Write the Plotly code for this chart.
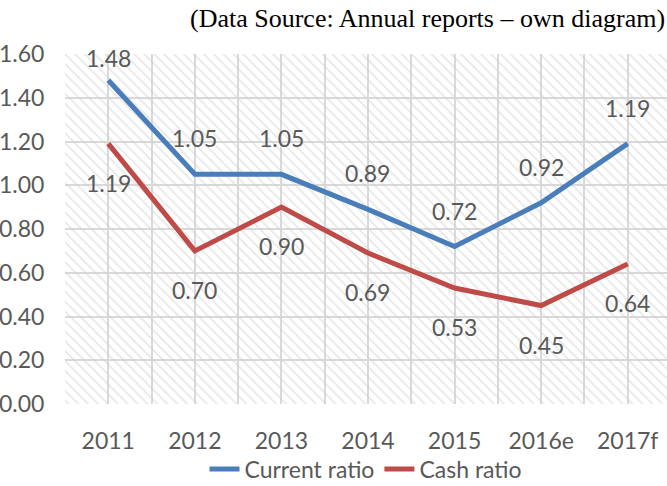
import plotly.graph_objects as go

# ---- data ----
years = ["2011", "2012", "2013", "2014", "2015", "2016e", "2017f"]
current_ratio = [1.48, 1.05, 1.05, 0.89, 0.72, 0.92, 1.19]
cash_ratio = [1.19, 0.70, 0.90, 0.69, 0.53, 0.45, 0.64]
y_ticks = [0.0, 0.2, 0.4, 0.6, 0.8, 1.0, 1.2, 1.4, 1.6]
title_text = "(Data Source: Annual reports \u2013 own diagram)"

# ---- style ----
W, H = 667, 486
M_L, M_R, M_T, M_B = 65, 0, 54, 82
Y_MIN, Y_MAX = 0.0, 1.6
X_RANGE = [-0.5, len(years) - 0.5 - 0.046]
BLUE = "#4A7EBB"
RED = "#BE4B48"
TXT = "#595959"
GRID = "#d9d9d9"
FONT = "Lato"
FS = 23

fig = go.Figure()

# patterned plot-area background (one full-height bar per category)
fig.add_trace(go.Bar(
    x=years, y=[Y_MAX] * len(years), width=1,
    marker=dict(color="rgba(0,0,0,0)", line=dict(width=0),
                pattern=dict(shape="\\", fgcolor="#d0d0d0", bgcolor="rgba(0,0,0,0)",
                             size=7, solidity=0.24)),
    showlegend=False, hoverinfo="skip"))

# helper trace for the overlay axis that carries the vertical grid
fig.add_trace(go.Scatter(x=[None], y=[None], xaxis="x2", yaxis="y",
                         showlegend=False, hoverinfo="skip"))

fig.add_trace(go.Scatter(x=years, y=current_ratio, mode="lines", name="Current ratio",
                         line=dict(color=BLUE, width=5)))
fig.add_trace(go.Scatter(x=years, y=cash_ratio, mode="lines", name="Cash ratio",
                         line=dict(color=RED, width=5)))

ppu = (H - M_T - M_B) / (Y_MAX - Y_MIN)
annotations = []
for i, v in enumerate(current_ratio):
    shift = min(36, (Y_MAX - v) * ppu - 4)
    annotations.append(dict(x=i, y=v, xref="x", yref="y", text=f"{v:.2f}",
                            showarrow=False, yshift=shift,
                            font=dict(family=FONT, size=FS, color=TXT)))
for i, v in enumerate(cash_ratio):
    annotations.append(dict(x=i, y=v, xref="x", yref="y", text=f"{v:.2f}",
                            showarrow=False, yshift=-39,
                            font=dict(family=FONT, size=FS, color=TXT)))
annotations.append(dict(xref="paper", yref="paper", x=1, y=1, yshift=M_T - 2,
                        xanchor="right", yanchor="top", showarrow=False, text=title_text,
                        font=dict(family="Liberation Serif", size=26, color="black")))

fig.update_layout(
    width=W, height=H,
    margin=dict(l=M_L, r=M_R, t=M_T, b=M_B, autoexpand=False),
    paper_bgcolor="white", plot_bgcolor="white",
    font=dict(family=FONT, size=FS, color=TXT),
    barmode="overlay",
    annotations=annotations,
    xaxis=dict(type="category", range=X_RANGE, showgrid=False, zeroline=False,
               showline=False, ticks="outside", ticklen=16, tickcolor="rgba(0,0,0,0)",
               automargin=False,
               tickfont=dict(family=FONT, size=FS, color=TXT)),
    xaxis2=dict(overlaying="x", anchor="y", range=X_RANGE, tick0=-0.5, dtick=0.5,
                showgrid=True, gridcolor=GRID, gridwidth=1.5, showticklabels=False,
                ticks="", zeroline=False, showline=False, automargin=False),
    yaxis=dict(range=[Y_MIN, Y_MAX], tickvals=y_ticks,
               ticktext=[f"{t:.2f}" for t in y_ticks],
               showgrid=True, gridcolor=GRID, gridwidth=1.5, zeroline=False,
               ticks="outside", ticklen=15, tickcolor="rgba(0,0,0,0)",
               automargin=False,
               tickfont=dict(family=FONT, size=FS, color=TXT)),
    legend=dict(orientation="h", x=0.5, xanchor="center", y=17 / H, yref="container",
                yanchor="middle", font=dict(family=FONT, size=FS, color=TXT),
                bgcolor="rgba(0,0,0,0)", itemwidth=30),
    showlegend=True,
)

fig.write_html("out.html")
